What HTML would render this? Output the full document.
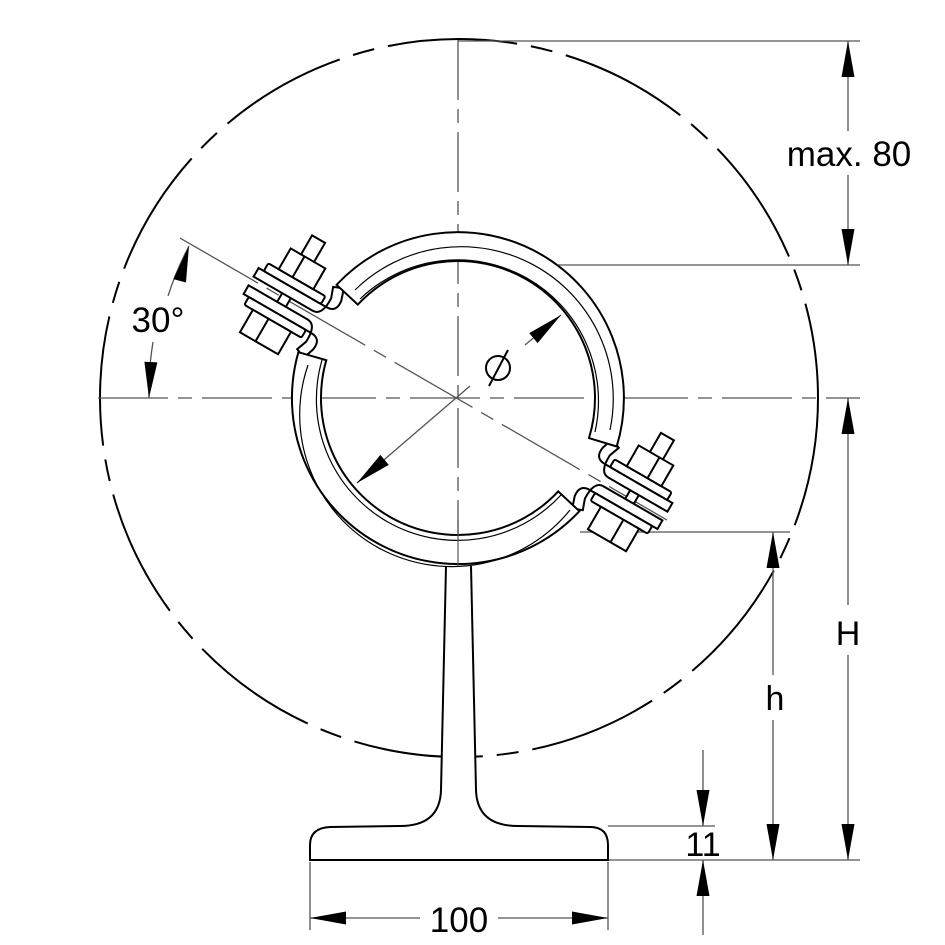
<!DOCTYPE html>
<html><head><meta charset="utf-8"><style>
html,body{margin:0;padding:0;background:#fff}
svg{display:block}
text{font-family:"Liberation Sans",sans-serif;fill:#000}
</style></head><body>
<svg width="945" height="945" viewBox="0 0 945 945" xmlns="http://www.w3.org/2000/svg">
<defs>
<path id="ah" d="M0,0 L-36,-6.5 L-36,6.5 Z" fill="#000"/>
</defs>
<circle cx="459" cy="398" r="359" fill="none" stroke="#000" stroke-width="2" stroke-dasharray="130 14 22 14"/>
<g stroke="#555" stroke-width="1.3" fill="none">
<line x1="458" y1="40" x2="458" y2="762" stroke-dasharray="60 9 14 9"/>
<line x1="98" y1="398" x2="860" y2="398" stroke-dasharray="70 10 14 10"/>
<line x1="180" y1="238" x2="667" y2="520" stroke-dasharray="90 10 14 10"/>
<line x1="458" y1="41" x2="860" y2="41"/>
<line x1="555" y1="265" x2="860" y2="265"/>
<line x1="580" y1="532" x2="790" y2="532"/>
<line x1="608" y1="860" x2="860" y2="860"/>
<line x1="608" y1="826" x2="715" y2="826"/>
<line x1="310" y1="862" x2="310" y2="930"/>
<line x1="608" y1="862" x2="608" y2="930"/>
<line x1="848" y1="41" x2="848" y2="131"/>
<line x1="848" y1="175" x2="848" y2="265"/>
<line x1="848" y1="398" x2="848" y2="605"/>
<line x1="848" y1="655" x2="848" y2="860"/>
<line x1="773" y1="532" x2="773" y2="675"/>
<line x1="773" y1="720" x2="773" y2="860"/>
<line x1="703" y1="750" x2="703" y2="826"/>
<line x1="703" y1="860" x2="703" y2="935"/>
<line x1="310" y1="918" x2="420" y2="918"/>
<line x1="498" y1="918" x2="608" y2="918"/>
<path d="M189,246 A309 309 0 0 0 168,296"/>
<path d="M153,342 A309 309 0 0 0 149,398"/>
<line x1="561" y1="315" x2="525" y2="345"/>
<line x1="470" y1="386" x2="357" y2="483"/>
</g>
<use href="#ah" transform="translate(848,41) rotate(-90)"/>
<use href="#ah" transform="translate(848,265) rotate(90)"/>
<use href="#ah" transform="translate(848,398) rotate(-90)"/>
<use href="#ah" transform="translate(848,860) rotate(90)"/>
<use href="#ah" transform="translate(773,532) rotate(-90)"/>
<use href="#ah" transform="translate(773,860) rotate(90)"/>
<use href="#ah" transform="translate(703,826) rotate(90)"/>
<use href="#ah" transform="translate(703,860) rotate(-90)"/>
<use href="#ah" transform="translate(310,918) rotate(180)"/>
<use href="#ah" transform="translate(608,918)"/>
<use href="#ah" transform="translate(189,246) rotate(-75)"/>
<use href="#ah" transform="translate(149,398) rotate(93)"/>
<use href="#ah" transform="translate(561,315) rotate(-40)"/>
<use href="#ah" transform="translate(357,483) rotate(140)"/>
<text x="849" y="166" font-size="35" text-anchor="middle">max. 80</text>
<text x="848" y="645" font-size="34" text-anchor="middle">H</text>
<text x="775" y="710" font-size="34" text-anchor="middle">h</text>
<text x="703" y="856" font-size="34" text-anchor="middle">11</text>
<text x="459" y="932" font-size="35" text-anchor="middle">100</text>
<text x="158" y="332" font-size="35" text-anchor="middle">30°</text>
<g stroke="#000" stroke-width="2" fill="none">
<circle cx="498" cy="368" r="12"/>
<line x1="489" y1="386" x2="508" y2="350"/>
</g>
<path d="M446,566 L441,790 Q440,826 400,826 L330,827 Q310,828 310,845 L310,860 L608,860 L608,845 Q608,827 590,827 L518,826 Q477,826 476,790 L471,566" fill="#fff" stroke="#000" stroke-width="2"/>
<g stroke="#000" stroke-width="2" fill="#fff" transform="translate(632,497) rotate(30)">
<rect x="-5" y="-24" width="10" height="46"/>
<path d="M38,-15 L-40,-15 Q-52,-15 -50,-28 L-46,-40 L-36,-36 L-40,-25 Q-41,-5 -30,-5 L38,-5 Z"/>
<path d="M38,15 L-40,15 Q-52,15 -50,28 L-46,40 L-36,36 L-40,25 Q-41,5 -30,5 L38,5 Z"/>
<rect x="-34" y="-24" width="66" height="9" rx="2"/>
<rect x="-34" y="15" width="66" height="9" rx="2"/>
<rect x="-7" y="-70" width="15" height="24"/>
<rect x="-20" y="-48" width="40" height="24"/>
<line x1="4" y1="-48" x2="4" y2="-24"/>
<rect x="-22" y="24" width="44" height="26"/>
<line x1="4" y1="24" x2="4" y2="50"/>
</g>
<g stroke="#000" stroke-width="2" fill="#fff" transform="translate(284,300) rotate(30) scale(-1,1)">
<rect x="-5" y="-24" width="10" height="46"/>
<path d="M38,-15 L-40,-15 Q-52,-15 -50,-28 L-46,-40 L-36,-36 L-40,-25 Q-41,-5 -30,-5 L38,-5 Z"/>
<path d="M38,15 L-40,15 Q-52,15 -50,28 L-46,40 L-36,36 L-40,25 Q-41,5 -30,5 L38,5 Z"/>
<rect x="-34" y="-24" width="66" height="9" rx="2"/>
<rect x="-34" y="15" width="66" height="9" rx="2"/>
<rect x="-7" y="-70" width="15" height="24"/>
<rect x="-20" y="-48" width="40" height="24"/>
<line x1="4" y1="-48" x2="4" y2="-24"/>
<rect x="-22" y="24" width="44" height="26"/>
<line x1="4" y1="24" x2="4" y2="50"/>
</g>
<g stroke="#000" stroke-width="2" fill="#fff">
<path d="M336.6,284.8 A166 166 0 0 1 616.7,446.5 L589,438.1 A137 137 0 0 0 357.8,304.6 Z"/>
<path d="M298.4,352.2 A166 166 0 0 0 579.4,511.2 L558.2,491.4 A137 137 0 0 1 326.3,360.2 Z"/>
</g>
<g stroke="#000" stroke-width="1.2" fill="none">
<path d="M360,299 A141 141 0 0 1 595,432"/>
<path d="M322,360 A141 141 0 0 0 561,495"/>
<path d="M355,290 A152 152 0 0 1 610,430"/>
<path d="M308,365 A152 152 0 0 0 570,510"/>
</g>
<line x1="458" y1="520" x2="458" y2="566" stroke="#555" stroke-width="1.2"/>
</svg>
</body></html>
